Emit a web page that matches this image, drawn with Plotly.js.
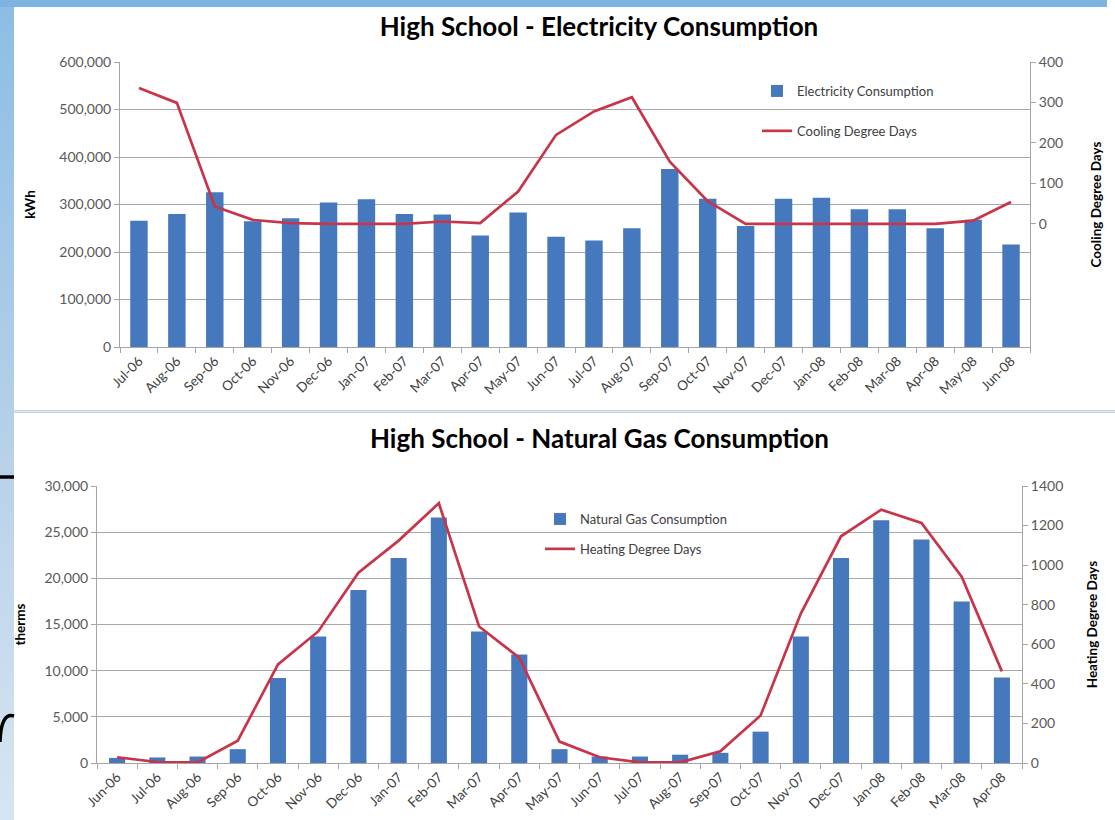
<!DOCTYPE html>
<html>
<head>
<meta charset="utf-8">
<script src="https://cdn.plot.ly/plotly-3.0.1.min.js"></script>
<style>
  html, body { margin:0; padding:0; }
  body { width:1115px; height:820px; background: linear-gradient(to bottom, #8cbde6 0%, #b4cfe8 50%, #d6e5f2 100%); overflow:hidden; }
  #chart { width:1115px; height:820px; }
</style>
</head>
<body>
<div id="chart"></div>
<script>
// ---- Electricity chart data ----
const elecMonths = ['Jul-06','Aug-06','Sep-06','Oct-06','Nov-06','Dec-06','Jan-07','Feb-07','Mar-07','Apr-07','May-07','Jun-07',
                    'Jul-07','Aug-07','Sep-07','Oct-07','Nov-07','Dec-07','Jan-08','Feb-08','Mar-08','Apr-08','May-08','Jun-08'];
const elecKwh = [266000, 280000, 326000, 265000, 271000, 304000, 311000, 280000, 279000, 235000, 283000, 232000,
                 224000, 250000, 375000, 312000, 255000, 312000, 314000, 290000, 290000, 250000, 268000, 216000];
const coolingDD = [336, 299, 43, 10, 2, 0, 0, 0, 6, 2, 80, 220,
                   278, 313, 154, 56, 0, 0, 0, 0, 0, 0, 8, 54];
const elecTicksLeft = [0, 100000, 200000, 300000, 400000, 500000, 600000];
const elecTicksRight = [0, 100, 200, 300, 400];

// ---- Natural gas chart data ----
const gasMonths = ['Jun-06','Jul-06','Aug-06','Sep-06','Oct-06','Nov-06','Dec-06','Jan-07','Feb-07','Mar-07','Apr-07','May-07',
                   'Jun-07','Jul-07','Aug-07','Sep-07','Oct-07','Nov-07','Dec-07','Jan-08','Feb-08','Mar-08','Apr-08'];
const gasTherms = [550, 600, 700, 1500, 9200, 13700, 18750, 22200, 26600, 14250, 11750, 1500,
                   700, 700, 900, 1100, 3400, 13700, 22200, 26300, 24200, 17500, 9250];
const heatingDD = [29, 5, 3, 113, 498, 665, 962, 1124, 1313, 690, 532, 108,
                   29, 3, 3, 59, 240, 755, 1146, 1280, 1213, 942, 463];
const gasTicksLeft = [0, 5000, 10000, 15000, 20000, 25000, 30000];
const gasTicksRight = [0, 200, 400, 600, 800, 1000, 1200, 1400];

const BLUE = '#4678be';
const RED = '#c8344a';
const AXIS = '#a6a6a6';
const GRID = '#a8a8a8';
const FONT = 'Lato, "Open Sans", "Noto Sans", sans-serif';

const W = 1115, H = 820;
const px = v => v / W;
const py = v => 1 - v / H;

const traces = [
  { type:'bar', name:'Electricity Consumption', x: elecMonths, y: elecKwh, xaxis:'x', yaxis:'y',
    marker:{color:BLUE}, width:0.46, legend:'legend', legendgroup:'e1' },
  { type:'scatter', mode:'lines', name:'Cooling Degree Days', x: elecMonths, y: coolingDD, xaxis:'x', yaxis:'y2',
    line:{color:RED, width:2.7}, legend:'legend', legendgroup:'e2' },
  { type:'bar', name:'Natural Gas Consumption', x: gasMonths, y: gasTherms, xaxis:'x2', yaxis:'y3',
    marker:{color:BLUE}, width:0.4, legend:'legend2', legendgroup:'g1' },
  { type:'scatter', mode:'lines', name:'Heating Degree Days', x: gasMonths, y: heatingDD, xaxis:'x2', yaxis:'y4',
    line:{color:RED, width:2.7}, legend:'legend2', legendgroup:'g2' }
];

const tickFont = {family:FONT, size:14, color:'#595959'};
const xTickFont = {family:FONT, size:13.5, color:'#404040'};
const axTitleFont = {family:FONT, size:13.5, color:'#000000', weight:'bold'};
const titleFont = {family:FONT, size:26, color:'#000000', weight:'bold'};

const xBase = { type:'category', tickangle:-45, tickson:'boundaries', ticks:'outside', ticklen:5, tickcolor:AXIS,
                showline:true, linecolor:AXIS, linewidth:1, showgrid:false, zeroline:false, tickfont:xTickFont, fixedrange:true };

const layout = {
  width:W, height:H,
  margin:{l:0, r:0, t:0, b:0},
  paper_bgcolor:'rgba(0,0,0,0)',
  plot_bgcolor:'rgba(0,0,0,0)',
  font:{family:FONT, size:12, color:'#595959'},
  showlegend:true,
  title:{ text:'High School - Electricity Consumption', x:px(599), xanchor:'center', y:py(27), yanchor:'middle',
          xref:'paper', yref:'paper', font:titleFont },
  xaxis: Object.assign({}, xBase, { domain:[px(120), px(1030)], anchor:'y' }),
  yaxis: { domain:[py(347), py(62)], anchor:'x', range:[0, 600000], tickvals:elecTicksLeft, tickformat:',d',
           showgrid:true, gridcolor:GRID, gridwidth:1, showline:true, linecolor:AXIS, ticks:'outside', ticklen:5, tickcolor:AXIS,
           zeroline:false, tickfont:tickFont, fixedrange:true,
           title:{ text:'kWh', font:axTitleFont, standoff:20 } },
  yaxis2: { overlaying:'y', side:'right', anchor:'x', range:[-304, 400], tickvals:elecTicksRight,
            showgrid:false, showline:true, linecolor:AXIS, ticks:'outside', ticklen:5, tickcolor:AXIS,
            zeroline:false, tickfont:tickFont, fixedrange:true,
            title:{ text:'Cooling Degree Days', font:axTitleFont, standoff:29 } },
  xaxis2: Object.assign({}, xBase, { domain:[px(97), px(1022)], anchor:'y3' }),
  yaxis3: { domain:[py(763), py(486)], anchor:'x2', range:[0, 30000], tickvals:gasTicksLeft, tickformat:',d',
            showgrid:true, gridcolor:GRID, gridwidth:1, showline:true, linecolor:AXIS, ticks:'outside', ticklen:5, tickcolor:AXIS,
            zeroline:false, tickfont:tickFont, fixedrange:true,
            title:{ text:'therms', font:axTitleFont, standoff:15 } },
  yaxis4: { overlaying:'y3', side:'right', anchor:'x2', range:[0, 1400], tickvals:gasTicksRight, tickformat:'d',
            showgrid:false, showline:true, linecolor:AXIS, ticks:'outside', ticklen:5, tickcolor:AXIS,
            zeroline:false, tickfont:tickFont, fixedrange:true,
            title:{ text:'Heating Degree Days', font:axTitleFont, standoff:25 } },
  legend: { x:px(757), xanchor:'left', y:py(76), yanchor:'top', bgcolor:'rgba(0,0,0,0)', borderwidth:0,
            font:{family:FONT, size:13, color:'#404040'}, tracegroupgap:20, traceorder:'grouped' },
  legend2: { x:px(540), xanchor:'left', y:py(504), yanchor:'top', bgcolor:'rgba(0,0,0,0)', borderwidth:0,
             font:{family:FONT, size:13, color:'#404040'}, tracegroupgap:10, traceorder:'grouped' },
  annotations: [
    { text:'High School - Natural Gas Consumption', xref:'paper', yref:'paper', x:px(599), y:py(438),
      xanchor:'center', yanchor:'middle', showarrow:false, font:titleFont }
  ],
  shapes: [
    // white chart panels
    { type:'rect', xref:'paper', yref:'paper', x0:px(14), x1:1, y0:py(410), y1:py(6), fillcolor:'#ffffff', line:{width:0}, layer:'below' },
    { type:'rect', xref:'paper', yref:'paper', x0:px(14), x1:1, y0:0, y1:py(413), fillcolor:'#ffffff', line:{width:0}, layer:'below' },
    { type:'line', xref:'paper', yref:'paper', x0:px(14), x1:1, y0:py(411.5), y1:py(411.5), line:{color:'#e6e6e6', width:1.5}, layer:'below' },
    // top blue band
    { type:'rect', xref:'paper', yref:'paper', x0:0, x1:px(1107), y0:py(7), y1:1, fillcolor:'#7fb3df', line:{width:0}, layer:'below' },
    { type:'rect', xref:'paper', yref:'paper', x0:px(1107), x1:1, y0:py(7), y1:1, fillcolor:'#ffffff', line:{width:0}, layer:'below' },
    // slide text fragments on left edge
    { type:'line', xref:'paper', yref:'paper', x0:0, x1:px(14), y0:py(477), y1:py(477), line:{color:'#000000', width:3.5}, layer:'below' },
    { type:'path', xref:'paper', yref:'paper', path:'M 0,' + py(742) + ' Q ' + px(1) + ',' + py(712) + ' ' + px(14) + ',' + py(716),
      line:{color:'#000000', width:3.5}, layer:'below' }
  ]
};

Plotly.newPlot('chart', traces, layout, {staticPlot:true, displayModeBar:false});
</script>
</body>
</html>
